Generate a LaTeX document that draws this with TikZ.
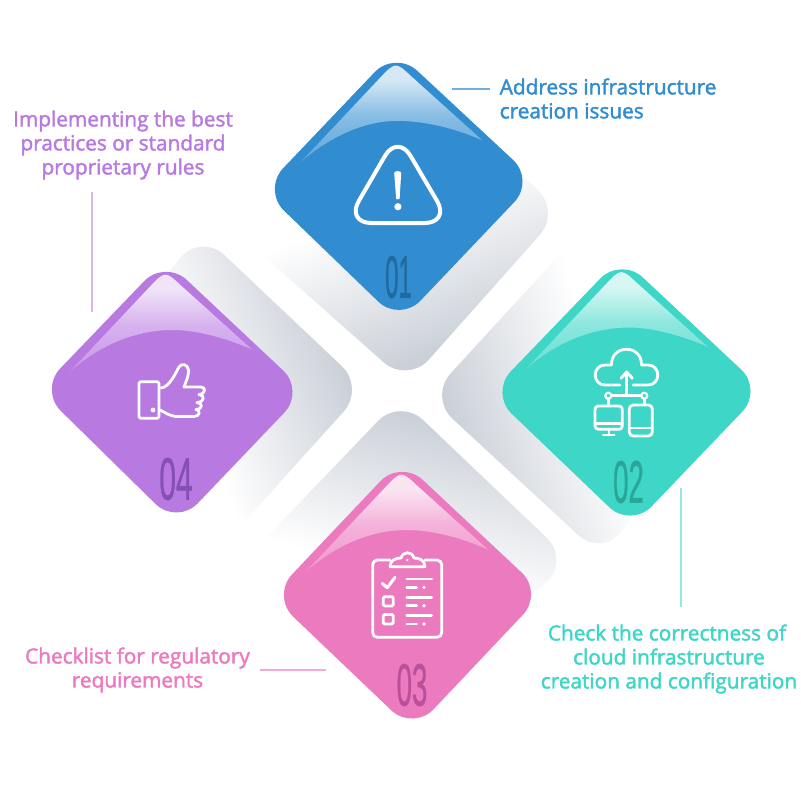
\documentclass[tikz,border=0pt]{standalone}
\usepackage{fontspec}
\setmainfont{Open Sans}
\newfontfamily\lblfont{Open Sans}
\newfontfamily\numfont{Liberation Sans}
\newcommand{\heavyon}[1]{\special{pdf:code 2 Tr #1 w}}
\newcommand{\heavyoff}{\special{pdf:code 0 Tr 1 w}}
\definecolor{cblue}{HTML}{318DD0}
\definecolor{cteal}{HTML}{3DD6C7}
\definecolor{cpink}{HTML}{EC7ABE}
\definecolor{cpurple}{HTML}{B87AE1}
\definecolor{nblue}{HTML}{1F6A9F}
\definecolor{nteal}{HTML}{2AA597}
\definecolor{npink}{HTML}{B9509B}
\definecolor{npurple}{HTML}{8450B5}
\definecolor{shdark}{HTML}{CBD0D8}
\pgfdeclareverticalshading{shgrad}{100bp}{color(0bp)=(shdark);color(43.5bp)=(shdark);color(56.5bp)=(white);color(100bp)=(white)}
\newcommand{\mkgloss}[2]{\pgfdeclareverticalshading{#1}{100bp}{color(0bp)=(#2!78!white);color(25bp)=(#2!78!white);color(48bp)=(#2!58!white);color(66bp)=(#2!20!white);color(75bp)=(#2!20!white);color(100bp)=(#2!20!white)}}
\mkgloss{glossblue}{cblue}
\mkgloss{glossteal}{cteal}
\mkgloss{glosspink}{cpink}
\mkgloss{glosspurple}{cpurple}
% #1..#4 corners, #5 colour
\newcommand{\mainshape}[5]{\fill[#5,rounded corners=22.5pt] #1 -- #2 -- #3 -- #4 -- cycle;}
% #1 top corner, #2 arc-top dx, #3 shading
\newcommand{\glossshape}[3]{\begin{scope}[shift={#1}]
\path[shading=#3] (-95,112) -- (-17,29.2) .. controls (0,11) .. (16,26) -- (87,90) .. controls (60,78) and (30,70.5) .. (#2,70.5) .. controls (-35,70.5) and (-70,90) .. (-95,112) -- cycle;
\end{scope}}
% #1..#4 corners, #5 gradient centre, #6 angle
\newcommand{\backshape}[6]{\begin{scope}
\clip[rounded corners=24pt] #1 -- #2 -- #3 -- #4 -- cycle;
\begin{scope}[shift={#5}]
\path[shading=shgrad,shading angle=#6] (-300,-300) rectangle (300,300);
\end{scope}
\end{scope}}
\tikzset{
 x=0.75pt,y=-0.75pt,
 icon/.style={draw=white,line width=2.3pt,line cap=round,line join=round},
 iconthin/.style={draw=white,line width=2.1pt,line cap=round,line join=round},
 lbl/.style={font=\fontsize{15.6}{18}\lblfont,align=center,inner sep=0pt},
 num/.style={font=\fontsize{45}{45}\numfont,inner sep=0pt},
 leader/.style={line width=0.9pt},
}
\begin{document}
\begin{tikzpicture}
\useasboundingbox (0,0) rectangle (801,800);
\fill[white] (0,0) rectangle (801,800);
% back shapes
\backshape{(395,60)}{(561,211)}{(407.6,383.5)}{(240,235)}{(373,293.5)}{21}
\backshape{(575,238)}{(720,400)}{(602,557)}{(429,397)}{(517,373)}{286.4}
\backshape{(400,398)}{(570,560)}{(400,720)}{(240,565)}{(381,488)}{166}
\backshape{(201,233)}{(365,388)}{(225,543)}{(70,390)}{(280,417.6)}{111}
% main shapes
\mainshape{(395.4,50.4)}{(535,180.3)}{(399.8,322.4)}{(262.5,189.9)}{cblue}
\mainshape{(621,257)}{(763,390)}{(631,528)}{(490,393)}{cteal}
\mainshape{(401,459.5)}{(543.5,593)}{(413,731)}{(271.5,596)}{cpink}
\mainshape{(165,259.5)}{(305,391)}{(177,525)}{(39.5,390)}{cpurple}
\glossshape{(395.4,50.4)}{1.6}{glossblue}
\glossshape{(621,257)}{9}{glossteal}
\glossshape{(401,459.5)}{5.7}{glosspink}
\glossshape{(165,259.5)}{8}{glosspurple}
% warning icon
\draw[icon,line width=3pt,rounded corners=19pt] (397.7,134) -- (450,223) -- (346,223) -- cycle;
\fill[white] (394.2,173) .. controls (394.2,170.5) and (401.2,170.5) .. (401.2,173) -- (399.6,199) -- (396.2,199) -- cycle;
\fill[white] (397.9,206.7) circle[radius=3.6];
% thumb icon
\draw[iconthin,rounded corners=1.5pt] (139,381.7) rectangle (159,418.3);
\fill[white] (153,410) circle[radius=2.4];
\draw[iconthin] (161,388) .. controls (170,387) and (176,372) .. (179,367) .. controls (181,363) and (188,364) .. (188.5,370) .. controls (189,376) and (186,381) .. (184,387) -- (201,387) .. controls (206,387) and (206,394) .. (199,394.5) .. controls (205,395) and (205,402) .. (197,402.5) .. controls (203,403) and (203,409) .. (196,409.5) .. controls (201,410) and (200,416.5) .. (194,416.5) -- (178,416.5) .. controls (170,416.5) and (166,413) .. (160,410);
% cloud icon
\draw[iconthin] (620,385) -- (605,385) .. controls (592,385) and (592,365) .. (605,365) -- (611.5,365) .. controls (611,344) and (642,344) .. (641.5,365) -- (648,365) .. controls (661,365) and (661,385) .. (648,385) -- (633,385);
\draw[iconthin] (626.7,395.7) -- (626.7,372);
\draw[iconthin] (621,378.3) -- (626.7,372) -- (632.4,378.3);
\draw[iconthin] (611.3,395.7) -- (641.3,395.7);
\draw[draw=white,line width=1.6pt] (608.3,395.7) circle[radius=3] (644.3,395.7) circle[radius=3];
\draw[iconthin] (608.3,398.7) -- (608.3,405.5) (644.3,398.7) -- (644.3,404.5);
\draw[iconthin,rounded corners=2.5pt] (595,406) rectangle (622.3,429.3);
\draw[iconthin] (595,423.3) -- (622.3,423.3) (609,429.3) -- (609,435) (603.3,435) -- (614.3,435);
\draw[iconthin,rounded corners=3pt] (629.3,405) rectangle (652.3,436);
\draw[iconthin] (629.3,428) -- (652.3,428);
% clipboard icon
\draw[iconthin,rounded corners=3.5pt] (390,560) -- (372.7,560) -- (372.7,637.3) -- (441.7,637.3) -- (441.7,560) -- (425,560);
\draw[iconthin] (390,566.7) -- (425,566.7) .. controls (425,560) and (419,558) .. (414,558) .. controls (412,551) and (403,551) .. (401,558) .. controls (396,558) and (390,560) .. (390,566.7);
\fill[white] (407.3,560) circle[radius=1.3];
\draw[icon] (382.3,583.5) -- (387.3,587.7) -- (395,577.3);
\draw[iconthin] (406.7,579) -- (431.7,579) (406.7,597.3) -- (431.7,597.3) (406.7,615.7) -- (431.7,615.7)
 (406.7,587.3) -- (416.7,587.3) (406.7,605.7) -- (416.7,605.7) (406.7,624) -- (416.7,624);
\fill[white] (424,587.3) circle[radius=1.8] (424,605.7) circle[radius=1.8] (424,624) circle[radius=1.8];
\draw[iconthin,rounded corners=1pt] (383.3,596.7) rectangle (393.3,606);
\draw[iconthin,rounded corners=1pt] (383.3,614.5) rectangle (393.3,624);
% numbers
\node[num,text=nblue] (n1) at (398.5,277) {\scalebox{0.40}[1]{\heavyon{0.4}01\heavyoff}};
\node[num,text=nteal] (n2) at (628.5,482) {\scalebox{0.46}[1]{\heavyon{0.4}02\heavyoff}};
\node[num,text=npink] (n3) at (412,685) {\scalebox{0.46}[1]{\heavyon{0.4}03\heavyoff}};
\node[num,text=npurple] (n4) at (176,479) {\scalebox{0.5}[1]{\heavyon{0.4}04\heavyoff}};
% labels
\node[lbl,text=cblue,align=left,anchor=west] (t1) at (499.5,98.5) {\heavyon{0.3}Address infrastructure\\creation issues\heavyoff};
\node[lbl,text=cteal] (t2) at (669,659) {\heavyon{0.3}Check the correctness of\hspace*{3pt}\\cloud infrastructure\hspace*{3pt}\\creation and configuration\heavyoff};
\node[lbl,text=cpink] (t3) at (137.5,670) {\heavyon{0.3}Checklist for regulatory\\requirements\heavyoff};
\node[lbl,text=cpurple] (t4) at (123,145) {\heavyon{0.3}Implementing the best\\practices or standard\\proprietary rules\heavyoff};
% leader lines
\coordinate (a1) at (452,89); \coordinate (b1) at (490,89);
\coordinate (a2) at (681,488); \coordinate (b2) at (681,607);
\coordinate (a3) at (260,670); \coordinate (b3) at (326,670);
\coordinate (a4) at (92,192); \coordinate (b4) at (92,312);
\draw[leader,draw=cblue!70!white] (a1) -- (b1);
\draw[leader,draw=cteal!55!white] (a2) -- (b2);
\draw[leader,draw=cpink!65!white] (a3) -- (b3);
\draw[leader,draw=cpurple!55!white] (a4) -- (b4);
\end{tikzpicture}
\end{document}
